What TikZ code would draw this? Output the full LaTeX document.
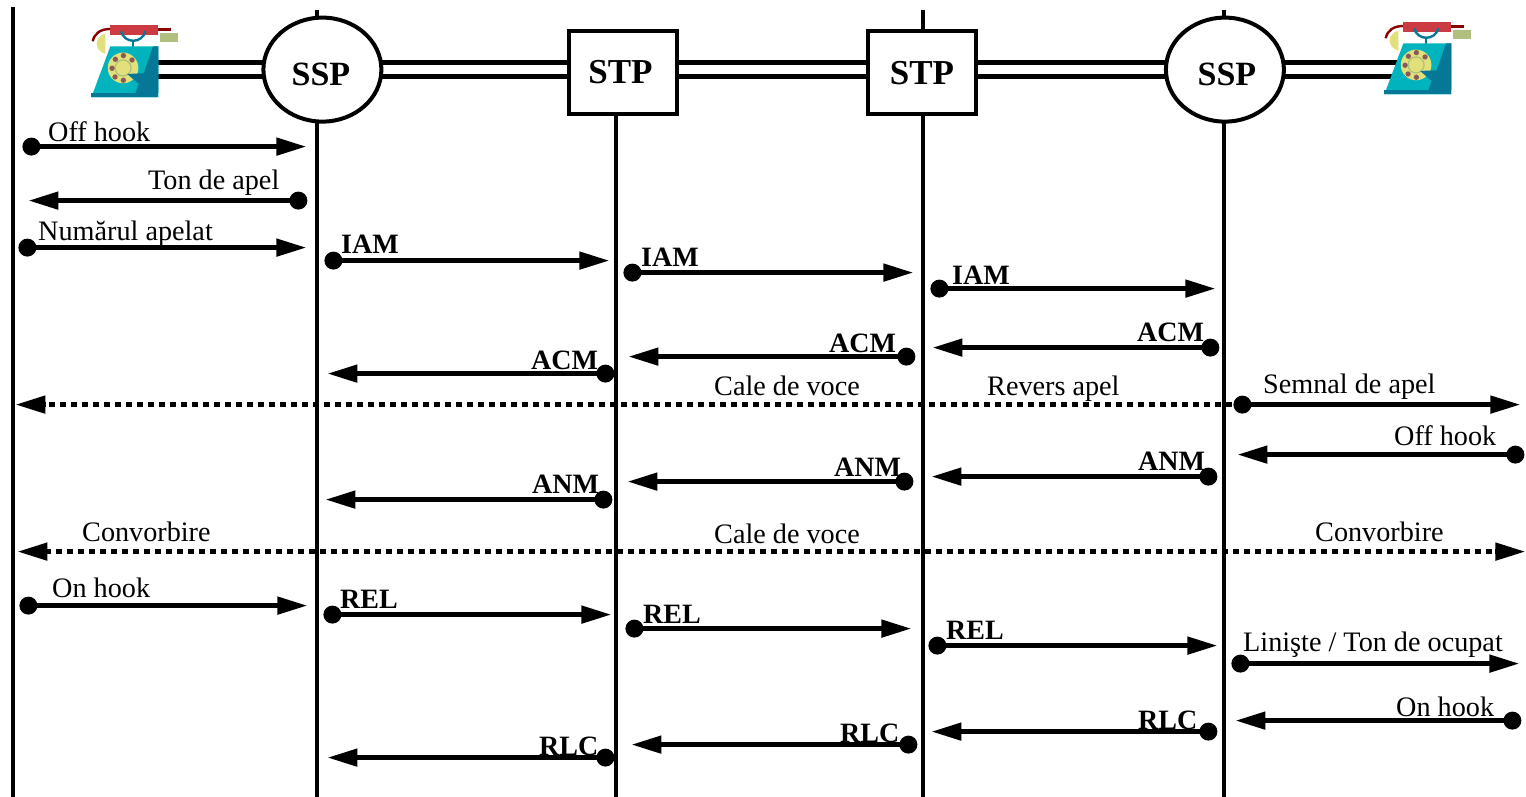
\documentclass[tikz,border=0pt]{standalone}
\usepackage{fontspec}
\setmainfont{Liberation Serif}
\usetikzlibrary{arrows.meta,shapes.geometric}
\definecolor{phcyan}{HTML}{00B3BC}
\definecolor{phdark}{HTML}{047896}
\definecolor{phred}{HTML}{CC3A42}
\definecolor{phcord}{HTML}{8B0000}
\definecolor{phyel}{HTML}{E2E07A}
\definecolor{phgreen}{HTML}{AEBF7E}
\definecolor{phbrown}{HTML}{8A5A5A}
\tikzset{
  ln/.style={line width=4pt},
  msgline/.style={line width=4.8pt,-{Triangle[length=30pt,width=17pt]}},
  voice/.style={line width=5pt,dash pattern=on 6pt off 5pt},
  vhead/.style={line width=4.8pt,-{Triangle[length=30pt,width=17pt]}},
  link/.style={line width=5pt},
  dotnode/.style={circle,fill=black,inner sep=0pt,minimum size=18pt},
  ssp/.style={ellipse,draw=black,fill=white,line width=4pt,inner sep=0pt,minimum width=118pt,minimum height=104pt},
  stp/.style={rectangle,draw=black,fill=white,line width=4pt,inner sep=0pt,minimum width=108pt,minimum height=83pt},
  txt/.style={anchor=base west,inner sep=0pt,xshift=-0.4pt,yshift=-0.8pt,font=\fontsize{28.2}{28}\selectfont},
  btxt/.style={anchor=base west,inner sep=0pt,xshift=-0.4pt,yshift=-0.8pt,font=\fontsize{28}{28}\selectfont\bfseries},
}
\newcommand\sigmsg[4]{%
  \node[dotnode] (#1s) at (#2,#3) {};
  \coordinate (#1e) at (#4,#3);
  \draw[msgline] (#1s.center) -- (#1e);}
\newcommand\phonepic[2]{%
  \begin{scope}[shift={(#1pt,#2pt)},x=0.33333pt,y=-0.33333pt]
    \draw[phcord,line width=2.4pt] (277,122) .. controls (282,98) and (300,85) .. (332,85);
    \fill[phcord] (470,82) rectangle (513,92);
    \fill[phyel] (315,98) .. controls (280,110) and (280,148) .. (315,160) -- cycle;
    \fill[phred] (330,74) rectangle (474,104);
    \fill[phgreen] (480,96) rectangle (534,123);
    \draw[phdark,line width=2.4pt] (362,92) .. controls (372,130) and (425,130) .. (435,92);
    \draw[phdark,line width=2.4pt] (398,122) -- (398,138);
    \fill[phcyan] (330,137) -- (474,137) -- (474,290) -- (273,290) -- cycle;
    \fill[phyel] (368,202) circle (46);
    \draw[phgreen,line width=1.2pt] (368,202) circle (24);
    \foreach \a/\b in {369/165,395/178,345/176,335/203,344/229,369/239} {\fill[phbrown] (\a,\b) circle (8);}
    \fill[phdark] (458,137) -- (474,137) -- (474,277) -- (405,277) -- (415,250) -- (380,220) -- (430,218) -- cycle;
    \fill[phdark] (273,277) -- (474,277) -- (474,290) -- (273,290) -- cycle;
  \end{scope}}
\begin{document}
\begin{tikzpicture}[x=1pt,y=-1pt]
\useasboundingbox (-0.4,-0.6) rectangle (1525.6,795.4);
% lifelines
\coordinate (ltop0) at (13,6);   \coordinate (lbot0) at (13,796);
\coordinate (ltop1) at (317,9);  \coordinate (lbot1) at (317,796);
\coordinate (ltop2) at (616,60); \coordinate (lbot2) at (616,796);
\coordinate (ltop3) at (923,9);  \coordinate (lbot3) at (923,796);
\coordinate (ltop4) at (1224,9); \coordinate (lbot4) at (1224,796);
\foreach \i in {0,...,4} {\draw[ln] (ltop\i) -- (lbot\i);}
% double links
\coordinate (pha) at (150,69);
\coordinate (cssp1) at (322,69);
\coordinate (cstp1) at (622.5,69);
\coordinate (cstp2) at (922,69);
\coordinate (cssp2) at (1224.5,69);
\coordinate (phb) at (1400,69);
\foreach \u/\v in {pha/cssp1,cssp1/cstp1,cstp1/cstp2,cstp2/cssp2,cssp2/phb} {
  \draw[link] ([yshift=7pt]\u) -- ([yshift=7pt]\v);
  \draw[link] ([yshift=-7pt]\u) -- ([yshift=-7pt]\v);
}
\node[ssp] (ssp1) at (322,69) {};
\node[stp] (stp1) at (622.5,71.5) {};
\node[stp] (stp2) at (922,71.5) {};
\node[ssp] (ssp2) at (1224.5,69) {};
\node[inner sep=0pt,font=\fontsize{34}{34}\selectfont\bfseries] (t1) at (320.5,74) {SSP};
\node[inner sep=0pt,font=\fontsize{35}{35}\selectfont\bfseries] (t2) at (620,71.5) {STP};
\node[inner sep=0pt,font=\fontsize{35}{35}\selectfont\bfseries] (t3) at (921.5,72.5) {STP};
\node[inner sep=0pt,font=\fontsize{34}{34}\selectfont\bfseries] (t4) at (1226.5,74) {SSP};
\phonepic{0}{0}
\phonepic{1293}{3}
% messages
\sigmsg{a}{31}{146}{306}
\sigmsg{b}{298}{200}{28}
\sigmsg{c}{27}{247}{306}
\sigmsg{d}{333}{260}{609}
\sigmsg{f}{632}{272}{913}
\sigmsg{g}{939}{288}{1215}
\sigmsg{h}{1210}{347}{932}
\sigmsg{i}{906}{356}{628}
\sigmsg{j}{605}{373}{327}
\sigmsg{k}{1242}{404}{1520}
\sigmsg{l}{1515}{454}{1237}
\sigmsg{m}{1208}{476}{931}
\sigmsg{n}{904}{481}{627}
\sigmsg{o}{603}{499}{325}
\sigmsg{p}{28}{605}{307}
\sigmsg{q}{332}{614}{611}
\sigmsg{r}{634}{628}{911}
\sigmsg{s}{937}{645}{1217}
\sigmsg{t}{1240}{663}{1519}
\sigmsg{u}{1512}{720}{1235}
\sigmsg{v}{1208}{731}{931}
\sigmsg{w}{908}{744}{631}
\sigmsg{x}{605}{757}{327}
% voice paths
\coordinate (va) at (1232,404); \coordinate (vb) at (15,404);
\draw[voice] (va) -- ([xshift=28pt]vb);
\draw[vhead] ([xshift=30.5pt]vb) -- (vb);
\coordinate (vc) at (17,551); \coordinate (vd) at (1525,551);
\draw[voice] ([xshift=28pt]vc) -- ([xshift=-28pt]vd);
\draw[vhead] ([xshift=30.5pt]vc) -- (vc);
\draw[vhead] ([xshift=-30.5pt]vd) -- (vd);
% labels
\node[txt] (l1) at (48,140) {Off hook};
\node[txt] (l2) at (148,188) {Ton de apel};
\node[txt] (l3) at (38,239) {Numărul apelat};
\node[btxt] (l4) at (341,252) {IAM};
\node[btxt] (l5) at (641,265) {IAM};
\node[btxt] (l6) at (952,283) {IAM};
\node[btxt] (l7) at (1137,340) {ACM};
\node[btxt] (l8) at (829,351) {ACM};
\node[btxt] (l9) at (531,368) {ACM};
\node[txt] (l10) at (714,394) {Cale de voce};
\node[txt] (l11) at (987,394) {Revers apel};
\node[txt] (l12) at (1263,392) {Semnal de apel};
\node[txt] (l13) at (1394,444) {Off hook};
\node[btxt] (l14) at (1138,469) {ANM};
\node[btxt] (l15) at (834,475) {ANM};
\node[btxt] (l16) at (532,492) {ANM};
\node[txt] (l17) at (82,540) {Convorbire};
\node[txt] (l18) at (714,542) {Cale de voce};
\node[txt] (l19) at (1315,540) {Convorbire};
\node[txt] (l20) at (52,596) {On hook};
\node[btxt] (l21) at (340,607) {REL};
\node[btxt] (l22) at (643,622) {REL};
\node[btxt] (l23) at (946,638) {REL};
\node[txt] (l24) at (1243,650) {Linişte / Ton de ocupat};
\node[txt] (l25) at (1396,715) {On hook};
\node[btxt] (l26) at (1138,728) {RLC};
\node[btxt] (l27) at (840,741) {RLC};
\node[btxt] (l28) at (539,754) {RLC};
\end{tikzpicture}
\end{document}
